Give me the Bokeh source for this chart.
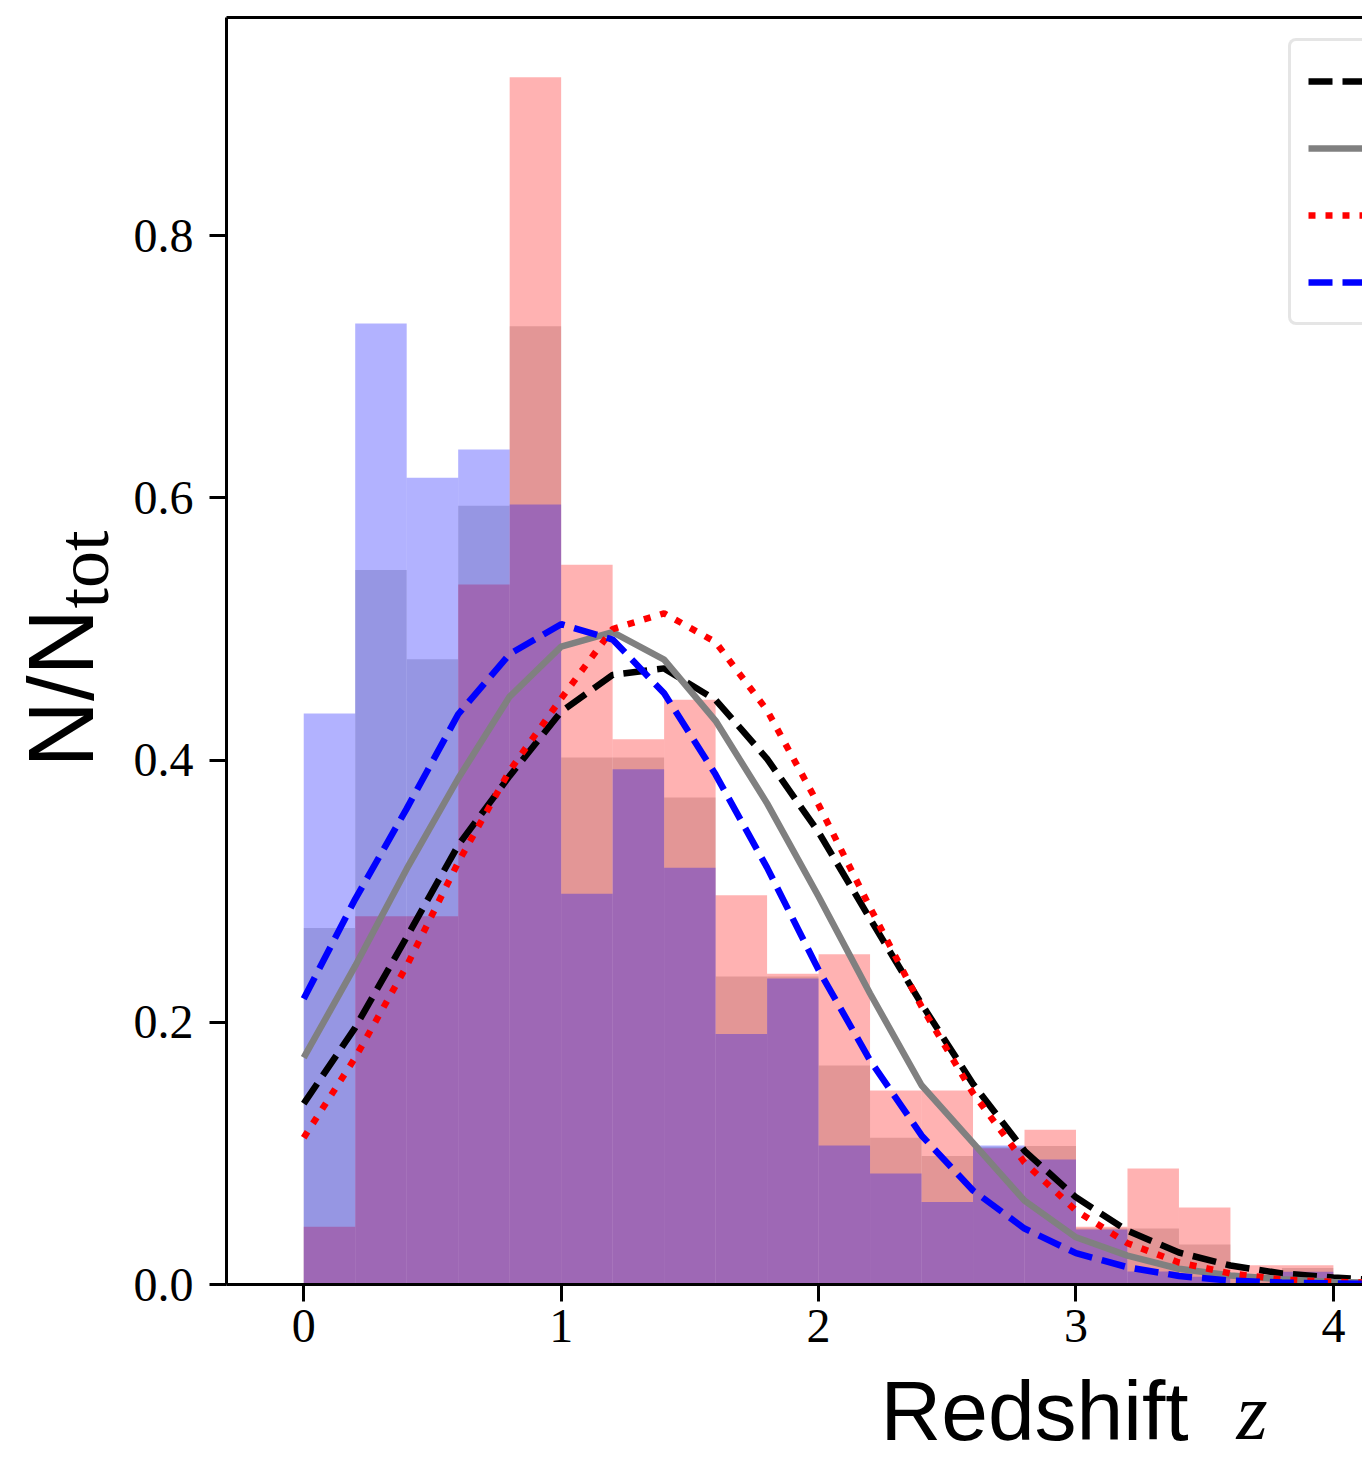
import numpy as np
from bokeh.plotting import figure
from bokeh.layouts import row, column
from bokeh.models import (Range1d, LinearAxis, FixedTicker, Legend,
                          LegendItem, PrintfTickFormatter)
from bokeh.embed import file_html
from bokeh.resources import INLINE
from bokeh.core.properties import value

# ---------------- data ----------------
bin_left = [0.0, 0.2, 0.4, 0.6, 0.8, 1.0, 1.2, 1.4, 1.6, 1.8,
            2.0, 2.2, 2.4, 2.6, 2.8, 3.0, 3.2, 3.4, 3.6, 3.8]
bin_width = 0.2
red_hist = [0.044, 0.281, 0.281, 0.534, 0.921, 0.549, 0.416, 0.446, 0.297, 0.237,
            0.252, 0.148, 0.148, 0.104, 0.118, 0.044, 0.0885, 0.0587, 0.0147, 0.0147]
all_hist = [0.272, 0.545, 0.477, 0.594, 0.731, 0.402, 0.402, 0.3715, 0.235, 0.235,
            0.167, 0.112, 0.098, 0.105, 0.1057, 0.043, 0.0427, 0.0305, 0.0073, 0.0125]
blue_hist = [0.4355, 0.733, 0.6155, 0.637, 0.595, 0.298, 0.393, 0.318, 0.191, 0.2334,
             0.106, 0.0847, 0.063, 0.106, 0.0953, 0.042, 0.0099, 0.006, 0.0, 0.0098]

z_grid = [0.0, 0.2, 0.4, 0.6, 0.8, 1.0, 1.2, 1.4, 1.6, 1.8, 2.0,
          2.2, 2.4, 2.6, 2.8, 3.0, 3.2, 3.4, 3.6, 3.8, 4.0, 4.2]
black_curve = [0.138, 0.196, 0.265, 0.335, 0.388, 0.437, 0.465, 0.470, 0.446, 0.401, 0.345,
               0.279, 0.214, 0.153, 0.102, 0.0665, 0.041, 0.0244, 0.0145, 0.0084, 0.0053, 0.003]
gray_curve = [0.173, 0.243, 0.317, 0.386, 0.4485, 0.4866, 0.4976, 0.4767, 0.430, 0.367, 0.296,
              0.222, 0.152, 0.108, 0.064, 0.036, 0.022, 0.012, 0.0069, 0.004, 0.002, 0.001]
red_curve = [0.112, 0.173, 0.243, 0.322, 0.392, 0.447, 0.500, 0.512, 0.490, 0.438, 0.366,
             0.2876, 0.212, 0.146, 0.093, 0.0564, 0.0315, 0.0168, 0.0084, 0.0038, 0.002, 0.001]
blue_curve = [0.218, 0.294, 0.363, 0.435, 0.481, 0.5037, 0.492, 0.451, 0.389, 0.318, 0.240,
              0.171, 0.1137, 0.0717, 0.0427, 0.0239, 0.0132, 0.0065, 0.003, 0.0015, 0.0008, 0.0004]

x_ticks = [0, 1, 2, 3, 4]
y_ticks = [0.0, 0.2, 0.4, 0.6, 0.8]

# ---------------- layout sizes ----------------
W, H = 1362, 1458
YLAB_W = 128          # strip holding the y-axis title
MAIN_H = 1363         # main plot height (frame bottom at 1284)
XLAB_H = H - MAIN_H   # strip holding the x-axis title
FRAME_TOP, FRAME_BOTTOM = 17, 1284

# ---------------- main figure ----------------
p = figure(width=W - YLAB_W, height=MAIN_H, output_backend="svg", toolbar_location=None,
           x_range=Range1d(-0.3, 4.113), y_range=Range1d(0, 0.9665),
           min_border_left=226 - YLAB_W, min_border_right=0, min_border_top=FRAME_TOP,
           min_border_bottom=MAIN_H - FRAME_BOTTOM)
p.grid.visible = False
p.outline_line_color = None
p.background_fill_color = "white"
p.border_fill_color = "white"

left = np.array(bin_left)
right = left + bin_width

p.quad(left=left, right=right, bottom=0, top=all_hist,
       fill_color="#d7d7d7", fill_alpha=1.0, line_color=None)
p.quad(left=left, right=right, bottom=0, top=red_hist,
       fill_color="red", fill_alpha=0.3, line_color=None)
p.quad(left=left, right=right, bottom=0, top=blue_hist,
       fill_color="blue", fill_alpha=0.3, line_color=None)

LW = 6.5
r_black = p.line(z_grid, black_curve, line_color="black", line_width=LW,
                 line_dash="24 10", line_cap="butt")
r_gray = p.line(z_grid, gray_curve, line_color="gray", line_width=LW)
r_red = p.line(z_grid, red_curve, line_color="red", line_width=LW,
               line_dash="7 10", line_cap="butt")
r_blue = p.line(z_grid, blue_curve, line_color="blue", line_width=LW,
                line_dash="24 10", line_cap="butt")

for ax in (p.xaxis[0], p.yaxis[0]):
    ax.axis_line_width = 3
    ax.axis_line_color = "black"
    ax.major_tick_line_width = 3
    ax.major_tick_out = 17
    ax.major_tick_in = 0
    ax.minor_tick_out = 0
    ax.minor_tick_in = 0
    ax.major_label_text_font = "Liberation Serif"
    ax.major_label_text_font_size = "48px"
    ax.major_label_text_color = "black"
p.xaxis.major_label_standoff = 8
p.yaxis.major_label_standoff = 16
p.xaxis.ticker = FixedTicker(ticks=x_ticks)
p.yaxis.ticker = FixedTicker(ticks=y_ticks)
p.xaxis.formatter = PrintfTickFormatter(format="%d")
p.yaxis.formatter = PrintfTickFormatter(format="%.1f")

top_axis = LinearAxis(ticker=FixedTicker(ticks=[]), axis_line_width=3,
                      axis_line_color="black", major_tick_out=0, major_tick_in=0,
                      minor_tick_out=0, minor_tick_in=0, major_label_standoff=0)
p.add_layout(top_axis, "above")

legend = Legend(items=[LegendItem(label=value(""), renderers=[r_black]),
                       LegendItem(label=value(""), renderers=[r_gray]),
                       LegendItem(label=value(""), renderers=[r_red]),
                       LegendItem(label=value(""), renderers=[r_blue])],
                location=(1062, 959))
legend.glyph_width = 90
legend.glyph_height = 46
legend.label_height = 46
legend.spacing = 21
legend.padding = 17
legend.label_standoff = 0
legend.border_line_color = "#cccccc"
legend.border_line_width = 3
legend.background_fill_alpha = 0.8
try:
    legend.border_radius = 8
except Exception:
    pass
p.add_layout(legend)

# ---------------- y-axis title strip (its frame is aligned with the main frame) ----------------
ylab = figure(width=YLAB_W, height=MAIN_H, output_backend="svg", toolbar_location=None,
              x_range=Range1d(0, YLAB_W), y_range=Range1d(FRAME_BOTTOM, FRAME_TOP),
              min_border=0, x_axis_type=None, y_axis_type=None)
ylab.outline_line_color = None
ylab.text(x=[60], y=[767], text=["N/N"], angle=np.pi / 2,
          text_font=value("Liberation Sans"), text_font_size=value("92px"),
          text_align="left", text_baseline="alphabetic", text_color="black")
ylab.text(x=[82], y=[608], text=["tot"], angle=np.pi / 2,
          text_font=value("Liberation Serif"), text_font_size=value("74px"),
          text_align="left", text_baseline="alphabetic", text_color="black")

# ---------------- x-axis title strip (coordinates = page pixels) ----------------
xlab = figure(width=W, height=XLAB_H, output_backend="svg", toolbar_location=None,
              x_range=Range1d(0, W), y_range=Range1d(H, MAIN_H),
              min_border=0, x_axis_type=None, y_axis_type=None)
xlab.outline_line_color = None
xlab.text(x=[880], y=[1410], text=["Redshift"],
          text_font=value("Liberation Sans"), text_font_size=value("84px"),
          text_align="left", text_baseline="alphabetic", text_color="black")
xlab.text(x=[1236], y=[1411], text=["z"],
          text_font=value("Liberation Serif"), text_font_style="italic",
          text_font_size=value("80px"),
          text_align="left", text_baseline="alphabetic", text_color="black")

layout = column(row(ylab, p), xlab)
open("out.html", "w").write(file_html(layout, INLINE))
